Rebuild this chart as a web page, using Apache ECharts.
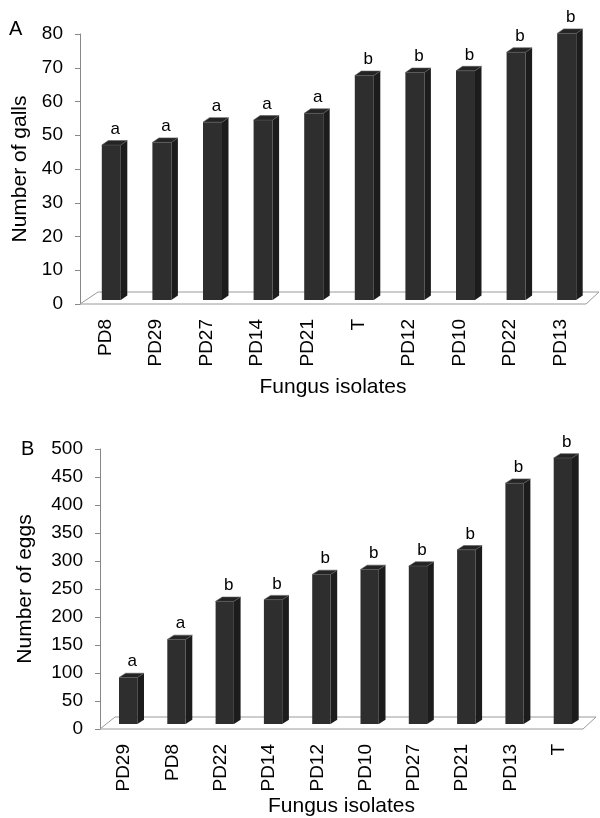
<!DOCTYPE html>
<html>
<head>
<meta charset="utf-8">
<script src="https://cdn.jsdelivr.net/npm/echarts@6/dist/echarts.min.js"></script>
<style>html,body{margin:0;padding:0;background:#fff;}#c{width:600px;height:818px;}</style>
</head>
<body>
<div id="c"></div>
<script>
// Panel A: number of galls
var categoriesA = ['PD8','PD29','PD27','PD14','PD21','T','PD12','PD10','PD22','PD13'];
var gallsA = [45.9, 46.7, 52.7, 53.3, 55.3, 66.5, 67.4, 67.9, 73.4, 79.0];
var lettersA = ['a','a','a','a','a','b','b','b','b','b'];
var yTicksA = {min: 0, max: 80, interval: 10};

// Panel B: number of eggs
var categoriesB = ['PD29','PD8','PD22','PD14','PD12','PD10','PD27','PD21','PD13','T'];
var eggsB = [83, 151, 219, 222, 267, 276, 282, 311, 430, 475];
var lettersB = ['a','a','b','b','b','b','b','b','b','b'];
var yTicksB = {min: 0, max: 500, interval: 50};

var FONT = "'Liberation Sans', Arial, sans-serif";

function barRenderer(dx0, dy0, w, ddx, ddy, letters) {
  return function (params, api) {
    var i = api.value(0), v = api.value(1);
    var base = api.coord([i, 0]);
    var top = api.coord([i, v]);
    var x0 = base[0] - w / 2 + dx0, x1 = x0 + w;
    var yb = base[1] + dy0, yt = top[1] + dy0;
    return {
      type: 'group',
      children: [
        {type: 'polygon', shape: {points: [[x1, yt], [x1 + ddx, yt + ddy], [x1 + ddx, yb + ddy], [x1, yb]]},
         style: {fill: '#1c1c1c'}},
        {type: 'rect', shape: {x: x0, y: yt, width: w, height: yb - yt}, style: {fill: '#2e2e2e'}},
        {type: 'polygon', shape: {points: [[x0, yt], [x1, yt], [x1 + ddx, yt + ddy], [x0 + ddx, yt + ddy]]},
         style: {fill: '#242424', stroke: '#5a5a5a', lineWidth: 0.6}},
        {type: 'text', x: x0 + w / 2 + 4, y: yt + ddy - 3,
         style: {text: letters[i], fill: '#000', font: '17px ' + FONT, align: 'center', verticalAlign: 'bottom'}}
      ]
    };
  };
}

function floorRenderer(dxl, dxr, dy) {
  return function (params, api) {
    var cs = params.coordSys;
    var yf = cs.y + cs.height;
    var xl = cs.x, xr = cs.x + cs.width;
    return {
      type: 'polygon',
      shape: {points: [[xl, yf], [xl + dxl, yf + dy], [xr + dxr, yf + dy], [xr, yf]]},
      style: {fill: '#fff', stroke: '#9a9a9a', lineWidth: 1}
    };
  };
}

function yAxisDef(gi, t, name, gap) {
  return {
    gridIndex: gi, type: 'value', min: t.min, max: t.max, interval: t.interval,
    name: name, nameLocation: 'middle', nameGap: gap,
    nameTextStyle: {fontSize: 21, color: '#000', fontFamily: FONT},
    axisLine: {show: true, lineStyle: {color: '#888', width: 1}},
    axisTick: {show: true, length: 5, lineStyle: {color: '#888'}},
    axisLabel: {fontSize: 19, color: '#000', fontFamily: FONT, margin: 17},
    splitLine: {show: false}
  };
}

function xAxisDef(gi, cats, gap) {
  return {
    gridIndex: gi, type: 'category', data: cats,
    name: 'Fungus isolates', nameLocation: 'middle', nameGap: gap,
    nameTextStyle: {fontSize: 21, color: '#000', fontFamily: FONT},
    axisLine: {show: false}, axisTick: {show: false},
    axisLabel: {rotate: 90, fontSize: 19, color: '#000', fontFamily: FONT, margin: 15, interval: 0}
  };
}

var chart = echarts.init(document.getElementById('c'), null, {renderer: 'canvas'});
chart.setOption({
  animation: false,
  backgroundColor: '#fff',
  title: [
    {text: 'A', left: 9, top: 19, textStyle: {fontSize: 20, fontWeight: 'normal', color: '#000', fontFamily: FONT}, padding: 0},
    {text: 'B', left: 21, top: 439, textStyle: {fontSize: 20, fontWeight: 'normal', color: '#000', fontFamily: FONT}, padding: 0}
  ],
  grid: [
    {left: 80, top: 34, width: 506, height: 270},
    {left: 100, top: 449, width: 483, height: 281}
  ],
  xAxis: [xAxisDef(0, categoriesA, 73), xAxisDef(1, categoriesB, 67)],
  yAxis: [yAxisDef(0, yTicksA, 'Number of galls', 45), yAxisDef(1, yTicksB, 'Number of eggs', 64)],
  series: [
    {type: 'custom', xAxisIndex: 0, yAxisIndex: 0, data: [[0, 0]], renderItem: floorRenderer(18, 13, -12), z: 1, silent: true},
    {type: 'custom', xAxisIndex: 1, yAxisIndex: 1, data: [[0, 0]], renderItem: floorRenderer(15, 13, -12), z: 1, silent: true},
    {type: 'custom', xAxisIndex: 0, yAxisIndex: 0, z: 2,
     data: gallsA.map(function (v, i) { return [i, v]; }),
     renderItem: barRenderer(6, -4, 19, 6.5, -4.5, lettersA)},
    {type: 'custom', xAxisIndex: 1, yAxisIndex: 1, z: 2,
     data: eggsB.map(function (v, i) { return [i, v]; }),
     renderItem: barRenderer(4, -5, 18.3, 6.7, -4.3, lettersB)}
  ]
});
</script>
</body>
</html>
